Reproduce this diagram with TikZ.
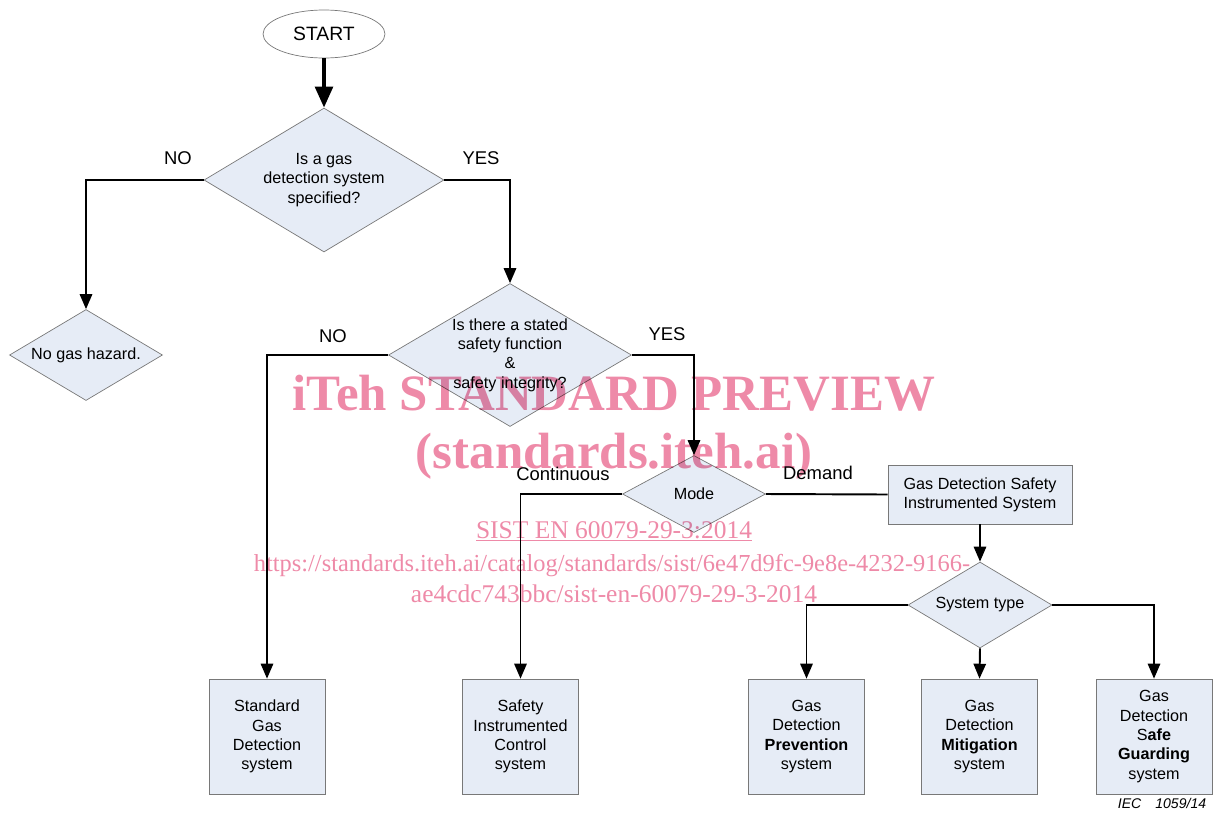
\documentclass[tikz,border=0pt]{standalone}
\usepackage{fontspec}
\setmainfont{Liberation Sans}
\newfontfamily\wmfont{Liberation Serif}
\usepackage{xcolor}
\usepackage{tikz}
\usetikzlibrary{shapes.geometric,arrows.meta}
\definecolor{boxfill}{RGB}{230,236,246}
\definecolor{boxline}{RGB}{120,120,120}
\definecolor{wmpink}{RGB}{238,138,168}

\begin{document}
\begin{tikzpicture}[x=0.02cm,y=-0.02cm]
			\tikzstyle{decision} = [diamond, draw=boxline, fill=boxfill, inner sep=0pt, align=center, font=\fontsize{9.2}{11}\selectfont]
			\tikzstyle{block} = [rectangle, draw=boxline, fill=boxfill, inner sep=0pt, align=center, font=\fontsize{9.2}{11}\selectfont]
			\tikzstyle{system} = [block, minimum width=2.32cm, minimum height=2.3cm]
			\tikzstyle{answer} = [font=\fontsize{10.5}{12}\selectfont]
			\tikzstyle{wmbig} = [text=wmpink, font=\wmfont\bfseries\fontsize{29}{34}\selectfont, anchor=base]
			\tikzstyle{wmsmall} = [text=wmpink, font=\wmfont\fontsize{14.5}{17}\selectfont, anchor=base]
			\tikzset{edge/.style = {line width=1.1pt, -{Triangle[width=7pt,length=8.5pt]}}}
			\tikzset{link/.style = {line width=1.1pt}}
			
			\useasboundingbox (0,0) rectangle (1216,812);
			
			\node[ellipse, draw=boxline, minimum width=2.44cm, minimum height=0.96cm, font=\fontsize{11}{13}\selectfont](start) at (324,34) {START};
			\node[decision, aspect=1.67, minimum width=4.8cm, minimum height=2.88cm](gasq) at (324,180) {Is a gas\\detection system\\specified?};
			\node[decision, aspect=1.68, minimum width=3.06cm, minimum height=1.82cm](nohazard) at (86,355) {No gas hazard.};
			\node[decision, aspect=1.7, minimum width=4.86cm, minimum height=2.86cm](safetyq) at (510,355) {Is there a stated\\safety function\\\&\\safety integrity?};
			\node[decision, aspect=1.86, minimum width=2.86cm, minimum height=1.54cm](mode) at (694,494) {Mode};
			\node[block, minimum width=3.68cm, minimum height=1.18cm](gdsis) at (980,494.5) {Gas Detection Safety\\Instrumented System};
			\node[decision, aspect=1.67, minimum width=2.88cm, minimum height=1.72cm](systype) at (980,605) {System type};
			
			\node[system](standard) at (267,736.5) {Standard\\Gas\\Detection\\system};
			\node[system](sic) at (520.5,736.5) {Safety\\Instrumented\\Control\\system};
			\node[system](prevention) at (806.5,736.5) {Gas\\Detection\\\textbf{Prevention}\\system};
			\node[system](mitigation) at (979.5,736.5) {Gas\\Detection\\\textbf{Mitigation}\\system};
			\node[system](safeguard) at (1154,736.5) {Gas\\Detection\\S\textbf{afe}\\\textbf{Guarding}\\system};
			
			\node[answer](no1) at (178,158) {NO};
			\node[answer](yes1) at (481,158) {YES};
			\node[answer](no2) at (333,336) {NO};
			\node[answer](yes2) at (667,334) {YES};
			\node[answer](cont) at (563,474) {Continuous};
			\node[answer](demand) at (818,473) {Demand};
			\node[font=\fontsize{8}{9}\selectfont\itshape](iec) at (1162,803) {IEC\hspace{1em}1059/14};
			
			\draw[line width=2.3pt, -{Triangle[width=10pt,length=12pt]}](start.south) to (gasq.north);
			\draw[edge](gasq.west) -| (nohazard.north);
			\draw[edge](gasq.east) -| (safetyq.north);
			\draw[edge](safetyq.west) -| (standard.north);
			\draw[edge](safetyq.east) -| (mode.north);
			\draw[edge](mode.west) -| (sic.north);
			\draw[link](mode.east) to (gdsis.west);
			\draw[edge](gdsis.south) to (systype.north);
			\draw[edge](systype.west) -| (prevention.north);
			\draw[edge](systype.south) to (mitigation.north);
			\draw[edge](systype.east) -| (safeguard.north);
			
			\begin{scope}[blend mode=multiply]
				\node[wmbig](wmtitle) at (614,410) {iTeh STANDARD PREVIEW};
				\node[wmbig](wmsite) at (614,468) {(standards.iteh.ai)};
				\node[wmsmall](wmcode) at (614,538) {\underline{SIST EN 60079-29-3:2014}};
				\node[wmsmall, font=\wmfont\fontsize{13.9}{17}\selectfont](wmurl) at (612,571) {https://standards.iteh.ai/catalog/standards/sist/6e47d9fc-9e8e-4232-9166-};
				\node[wmsmall](wmurlend) at (614,602) {ae4cdc743bbc/sist-en-60079-29-3-2014};
			\end{scope}
			
\end{tikzpicture}
\end{document}
